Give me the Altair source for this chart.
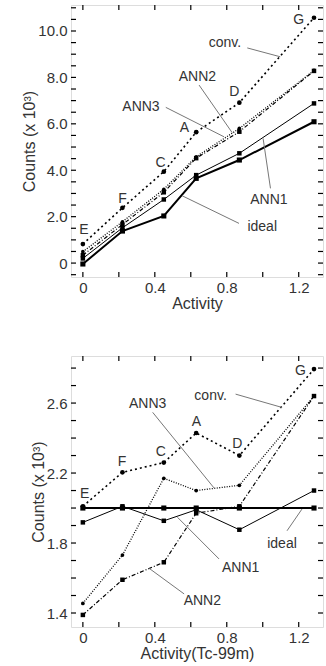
import altair as alt
import pandas as pd

# ---------------- data ----------------
activity = [0.0, 0.22, 0.45, 0.63, 0.87, 1.285]

top_conv = [0.82, 2.38, 3.94, 5.64, 6.91, 10.57]
top_ann3 = [0.49, 1.78, 3.18, 4.58, 5.80, 8.30]
top_ann2 = [0.34, 1.66, 3.05, 4.52, 5.66, 8.28]
top_ann1 = [0.20, 1.52, 2.74, 3.79, 4.73, 6.88]
top_ideal = [-0.04, 1.38, 2.03, 3.65, 4.44, 6.09]

bot_conv = [2.01, 2.204, 2.26, 2.429, 2.30, 2.794]
bot_ann3 = [1.455, 1.731, 2.17, 2.10, 2.13, 2.64]
bot_ann2 = [1.389, 1.59, 1.69, 1.97, 2.01, 2.64]
bot_ann1 = [1.918, 2.01, 1.927, 1.99, 1.876, 2.10]
bot_ideal = [2.0, 2.0, 2.0, 2.0, 2.0, 2.0]

x_major = [0, 0.4, 0.8, 1.2]
x_minor = [0, 0.2, 0.4, 0.6, 0.8, 1.0, 1.2]
top_y_major = [0, 2, 4, 6, 8, 10]
top_y_minor = [-0.5, 0, 0.5, 1, 1.5, 2, 2.5, 3, 3.5, 4, 4.5, 5, 5.5, 6, 6.5,
               7, 7.5, 8, 8.5, 9, 9.5, 10, 10.5, 11]
bot_y_major = [1.4, 1.8, 2.2, 2.6]
bot_y_minor = [1.4, 1.5, 1.6, 1.7, 1.8, 1.9, 2.0, 2.1, 2.2, 2.3, 2.4, 2.5, 2.6, 2.7, 2.8]

point_letters = ["E", "F", "C", "A", "D", "G"]
top_letter_x = [0.006, 0.22, 0.432, 0.565, 0.842, 1.20]
top_letter_y = [1.42, 2.75, 4.31, 5.82, 7.37, 10.47]
bot_letter_x = [0.01, 0.218, 0.434, 0.631, 0.858, 1.209]
bot_letter_y = [2.08, 2.261, 2.318, 2.49, 2.366, 2.785]

note_names = ["conv.", "ANN2", "ANN3", "ANN1", "ideal"]
top_note_x = [0.79, 0.637, 0.323, 1.034, 0.997]
top_note_y = [9.47, 8.03, 6.74, 2.72, 1.56]
top_lead_x = [0.914, 0.646, 0.461, 1.043, 0.868]
top_lead_y = [9.27, 7.67, 6.71, 3.22, 1.71]
top_lead_x2 = [1.097, 0.83, 0.785, 1.002, 0.552]
top_lead_y2 = [8.89, 5.62, 5.44, 5.37, 2.90]

bot_note_names = ["conv.", "ANN3", "ideal", "ANN1", "ANN2"]
bot_note_x = [0.71, 0.36, 1.107, 0.877, 0.664]
bot_note_y = [2.642, 2.594, 1.794, 1.657, 1.47]
bot_lead_x = [0.849, 0.388, 1.135, 0.757, 0.563]
bot_lead_y = [2.651, 2.547, 1.87, 1.709, 1.509]
bot_lead_x2 = [1.107, 0.729, 1.218, 0.526, 0.369]
bot_lead_y2 = [2.575, 2.115, 1.994, 1.947, 1.655]

x_domain = [-0.066, 1.335]
top_y_domain = [-0.6, 11.12]
bot_y_domain = [1.32, 2.869]

W = 252
TXT = "#333333"
FONT = "Liberation Sans"

STYLES = {
    "conv": dict(line=dict(strokeDash=[2, 3], strokeWidth=1.6), shape="circle", size=22),
    "ANN3": dict(line=dict(strokeDash=[1, 1.5], strokeWidth=1.3), shape="circle", size=14),
    "ANN2": dict(line=dict(strokeDash=[4, 2, 1, 2], strokeWidth=1.2), shape="square", size=20),
    "ANN1": dict(line=dict(strokeWidth=1.0), shape="square", size=20),
    "ideal": dict(line=dict(strokeWidth=2.0), shape="square", size=26),
}


def panel(series, ydom, ymajor, yminor, lx, ly, nnames, nx, ny, ldx, ldy, ldx2, ldy2,
          xtitle, height):
    xs = alt.Scale(domain=x_domain, nice=False, zero=False)
    ys = alt.Scale(domain=ydom, nice=False, zero=False)
    label_expr = "datum.value == 0 ? '0' : format(datum.value, '.1f')"
    xaxis = alt.Axis(values=x_major, labelExpr=label_expr, ticks=False, domain=False,
                     grid=False, labelPadding=3, title=xtitle, titlePadding=0,
                     labelFontSize=15, titleFontSize=16, labelColor=TXT, titleColor=TXT,
                     titleFontWeight="normal", labelOverlap=False, labelFlush=False)
    yaxis = alt.Axis(values=ymajor, labelExpr=label_expr, ticks=False, domain=False,
                     grid=False, labelPadding=4, title="Counts (x 10³)", titlePadding=0,
                     labelFontSize=15, titleFontSize=16, labelColor=TXT, titleColor=TXT,
                     titleFontWeight="normal", labelOverlap=False, labelFlush=False)

    def X(f):
        return alt.X(f, scale=xs, axis=xaxis)

    def Y(f):
        return alt.Y(f, scale=ys, axis=yaxis)

    layers = []
    for name in ["ideal", "ANN1", "ANN2", "ANN3", "conv"]:
        vals = series[name]
        df = pd.DataFrame({"x": activity, "y": vals})
        st = STYLES[name]
        base = alt.Chart(df)
        layers.append(base.mark_line(color="black", **st["line"]).encode(x=X("x:Q"), y=Y("y:Q")))
        layers.append(base.mark_point(filled=True, color="black", shape=st["shape"],
                                      size=st["size"], opacity=1).encode(x=X("x:Q"), y=Y("y:Q")))
    # leader lines
    lead = pd.DataFrame({"x": ldx, "y": ldy, "x2": ldx2, "y2": ldy2})
    layers.append(alt.Chart(lead).mark_rule(color="#777777", strokeWidth=1).encode(
        x=X("x:Q"), y=Y("y:Q"), x2="x2:Q", y2="y2:Q"))
    # notes
    notes = pd.DataFrame({"t": nnames, "x": nx, "y": ny})
    layers.append(alt.Chart(notes).mark_text(fontSize=14, color=TXT, font=FONT).encode(
        x=X("x:Q"), y=Y("y:Q"), text="t:N"))
    letters = pd.DataFrame({"t": point_letters, "x": lx, "y": ly})
    layers.append(alt.Chart(letters).mark_text(fontSize=14, color=TXT, font=FONT).encode(
        x=X("x:Q"), y=Y("y:Q"), text="t:N"))
    # inward ticks
    yt = alt.Chart(pd.DataFrame({"v": yminor}))
    xt = alt.Chart(pd.DataFrame({"v": x_minor}))
    tick = dict(color="black", strokeWidth=1.2)
    layers.append(yt.mark_rule(**tick).encode(
        y=Y("v:Q"), x=alt.value(0), x2=alt.value(5)))
    layers.append(yt.mark_rule(**tick).encode(
        y=Y("v:Q"), x=alt.value(W - 5), x2=alt.value(W)))
    layers.append(xt.mark_rule(**tick).encode(
        x=X("v:Q"), y=alt.value(height), y2=alt.value(height - 5)))
    layers.append(xt.mark_rule(**tick).encode(
        x=X("v:Q"), y=alt.value(0), y2=alt.value(5)))
    return alt.layer(*layers).properties(width=W, height=height)


top = panel({"conv": top_conv, "ANN3": top_ann3, "ANN2": top_ann2, "ANN1": top_ann1,
             "ideal": top_ideal},
            top_y_domain, top_y_major, top_y_minor, top_letter_x, top_letter_y,
            note_names, top_note_x, top_note_y, top_lead_x, top_lead_y, top_lead_x2,
            top_lead_y2, "Activity", 272)

bottom = panel({"conv": bot_conv, "ANN3": bot_ann3, "ANN2": bot_ann2, "ANN1": bot_ann1,
                "ideal": bot_ideal},
               bot_y_domain, bot_y_major, bot_y_minor, bot_letter_x, bot_letter_y,
               bot_note_names, bot_note_x, bot_note_y, bot_lead_x, bot_lead_y, bot_lead_x2,
               bot_lead_y2, "Activity(Tc-99m)", 271)

chart = alt.vconcat(top, bottom, spacing=42).properties(
    padding={"left": 21, "top": 3, "right": 0, "bottom": 0},
    background="white",
).configure_view(stroke="black", strokeWidth=1.5).configure(font=FONT)

chart.save("out.html", embed_options={"renderer": "svg", "actions": False})
